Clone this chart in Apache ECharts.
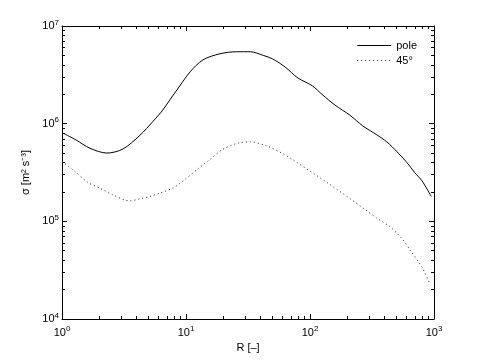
<!DOCTYPE html>
<html>
<head>
<meta charset="utf-8">
<script src="https://cdn.jsdelivr.net/npm/echarts@6/dist/echarts.min.js"></script>
<style>
    html, body { margin: 0; padding: 0; background: #fff; }
    #main { width: 479px; height: 360px; }
</style>
</head>
<body>
<div id="main"></div>
<script>
// pole curve
var poleR = [1, 1.3, 1.68, 2.3, 3.1, 4.25, 5.4, 6.5, 7.4, 8.9, 10.8, 13.7, 18.8, 25.7, 33, 42, 50, 63, 80, 104, 127, 159, 210, 266, 345, 417, 500, 605, 700, 800, 950];
var poleSigma = [8.1e5, 6.8e5, 5.6e5, 5.0e5, 5.5e5, 7.6e5, 1.05e6, 1.38e6, 1.75e6, 2.43e6, 3.4e6, 4.5e6, 5.2e6, 5.45e6, 5.45e6, 5.0e6, 4.6e6, 3.8e6, 2.93e6, 2.45e6, 1.96e6, 1.55e6, 1.22e6, 9.5e5, 7.7e5, 6.5e5, 5.2e5, 4.0e5, 3.15e5, 2.6e5, 1.8e5];
// 45 deg curve
var diagR = [1, 1.25, 1.62, 2.0, 2.58, 3.5, 4.25, 5.1, 6.2, 7.9, 9.5, 12.3, 15.6, 19.5, 26, 33, 45, 61, 72, 137, 272, 345, 442, 560, 640, 800, 910];
var diagSigma = [4.1e5, 3.3e5, 2.5e5, 2.2e5, 1.86e5, 1.62e5, 1.7e5, 1.8e5, 1.95e5, 2.2e5, 2.6e5, 3.4e5, 4.3e5, 5.4e5, 6.3e5, 6.5e5, 5.9e5, 4.9e5, 4.3e5, 2.5e5, 1.35e5, 1.08e5, 8.8e4, 6.5e4, 5.1e4, 3.4e4, 2.4e4];

var xMajor = [1, 10, 100, 1000];
var yMajor = [1e4, 1e5, 1e6, 1e7];
var seriesNames = ['pole', '45°'];

function minorsOf(major) {
    var out = [];
    for (var i = 0; i < major.length - 1; i++) {
        for (var k = 2; k <= 9; k++) out.push(major[i] * k);
    }
    return out;
}

function pairs(xs, ys) {
    return xs.map(function (x, i) { return [x, ys[i]]; });
}

var font = 'Liberation Sans, Arial, sans-serif';
var axisColor = '#000';

function powLabel(v) {
    var e = Math.round(Math.log10(v));
    return '{b|10}{e|' + e + '}';
}

var labelRich = {
    b: { fontSize: 11, fontFamily: font, color: '#000' },
    e: { fontSize: 8, fontFamily: font, color: '#000', padding: [0, 0, 7, 0] }
};

function makeAxis(dir, pos, major, showLabel, minor, extra) {
    var ax = {
        type: 'log',
        logBase: 10,
        position: pos,
        min: major[0],
        max: major[major.length - 1],
        splitLine: { show: false },
        axisLine: { show: !minor, onZero: false, lineStyle: { color: axisColor, width: 1 } },
        axisTick: {
            show: true,
            inside: true,
            length: minor ? 3 : 5,
            customValues: minor ? minorsOf(major) : major,
            lineStyle: { color: axisColor, width: 1 }
        },
        axisLabel: {
            show: showLabel,
            customValues: major,
            formatter: powLabel,
            rich: labelRich,
            margin: dir === 'x' ? 6 : 3
        }
    };
    if (extra) {
        for (var k in extra) ax[k] = extra[k];
    }
    return ax;
}

var myChart = echarts.init(document.getElementById('main'));
myChart.setOption({
    animation: false,
    backgroundColor: '#fff',
    textStyle: { fontFamily: font },
    grid: { left: 62, right: 45, top: 26, bottom: 41 },
    legend: {
        orient: 'vertical',
        right: 57,
        top: 35,
        align: 'left',
        itemWidth: 34,
        itemHeight: 8,
        itemGap: 4,
        itemStyle: { opacity: 0 },
        lineStyle: { width: 1 },
        textStyle: { fontSize: 11, fontFamily: font, color: '#000' },
        data: seriesNames
    },
    xAxis: [
        makeAxis('x', 'bottom', xMajor, true, false, {
            name: 'R [–]',
            nameLocation: 'middle',
            nameGap: 22,
            nameTextStyle: { fontSize: 11, fontFamily: font, color: '#000' }
        }),
        makeAxis('x', 'bottom', xMajor, false, true),
        makeAxis('x', 'top', xMajor, false, false),
        makeAxis('x', 'top', xMajor, false, true)
    ],
    yAxis: [
        makeAxis('y', 'left', yMajor, true, false, {
            name: 'σ [m² s⁻³]',
            nameLocation: 'middle',
            nameGap: 27,
            nameTextStyle: { fontSize: 11, fontFamily: font, color: '#000' }
        }),
        makeAxis('y', 'left', yMajor, false, true),
        makeAxis('y', 'right', yMajor, false, false),
        makeAxis('y', 'right', yMajor, false, true)
    ],
    series: [
        {
            name: seriesNames[0],
            type: 'line',
            smooth: 0.3,
            symbol: 'none',
            lineStyle: { color: '#000', width: 1, type: 'solid' },
            itemStyle: { color: '#000' },
            data: pairs(poleR, poleSigma)
        },
        {
            name: seriesNames[1],
            type: 'line',
            smooth: 0.3,
            symbol: 'none',
            lineStyle: { color: '#222', width: 1, type: [1, 3] },
            itemStyle: { color: '#000' },
            data: pairs(diagR, diagSigma)
        }
    ]
});
</script>
</body>
</html>
